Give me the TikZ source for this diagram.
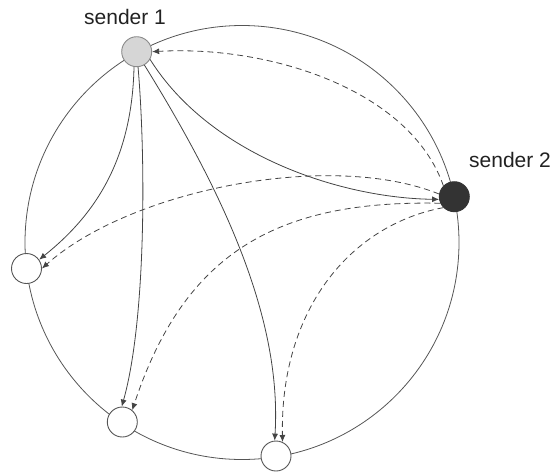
\documentclass[tikz,border=0pt]{standalone}
\usepackage{fontspec}
\setmainfont{Liberation Sans}
\usetikzlibrary{arrows.meta}
\definecolor{linec}{HTML}{444444}
\definecolor{ringc}{HTML}{555555}
\definecolor{lightn}{HTML}{D6D6D6}
\definecolor{lightb}{HTML}{8A8A8A}
\definecolor{darkn}{HTML}{333333}
\definecolor{textc}{HTML}{222222}
\tikzset{
  peer/.style={circle, minimum size=30pt, inner sep=0pt, draw=ringc, line width=0.9pt, fill=white},
  s1style/.style={peer, fill=lightn, draw=lightb},
  s2style/.style={peer, fill=darkn, draw=darkn},
  lbl/.style={text=textc, font=\fontsize{21}{24}\selectfont, inner sep=0pt},
  solidarr/.style={draw=linec, line width=0.8pt, -{Latex[length=7pt,width=6pt]}},
  dasharr/.style={draw=linec, line width=0.8pt, dash pattern=on 6pt off 4pt, -{Latex[length=7pt,width=6pt]}},
  ring/.style={draw=ringc, line width=0.8pt}
}
\begin{document}
\begin{tikzpicture}[x=1pt,y=-1pt]
\useasboundingbox (0,0) rectangle (559,472);
\coordinate (ctr) at (242,242.5);
\draw[ring] (ctr) circle[radius=217pt];
\node[s1style] (s1) at (136.7,51.7) {};
\node[s2style] (s2) at (454.3,196.7) {};
\node[peer] (l) at (26.5,268.5) {};
\node[peer] (bl) at (122.3,422) {};
\node[peer] (br) at (276,456) {};
\node[lbl, anchor=base west] (t1) at (84,24) {sender 1};
\node[lbl, anchor=base west] (t2) at (469,167) {sender 2};
% solid arrows from sender 1
\draw[solidarr] (s1.-100) .. controls (132,160) and (95,215) .. (l.35);
\draw[solidarr] (s1.-85) .. controls (146,160) and (146,320) .. (bl.92);
\draw[solidarr] (s1.-60) .. controls (225,195) and (282,320) .. (br.95);
\draw[solidarr] (s1.-30) .. controls (210,155) and (340,198) .. (s2.190);
% dashed arrows from sender 2
\draw[dasharr] (s2.135) .. controls (410,90) and (270,45) .. (s1.0);
\draw[dasharr] (s2.170) .. controls (330,150) and (130,190) .. (l.0);
\draw[dasharr] (s2.205) .. controls (280,200) and (185,250) .. (bl.50);
\draw[dasharr] (s2.225) .. controls (350,225) and (280,310) .. (br.65);
\end{tikzpicture}
\end{document}
